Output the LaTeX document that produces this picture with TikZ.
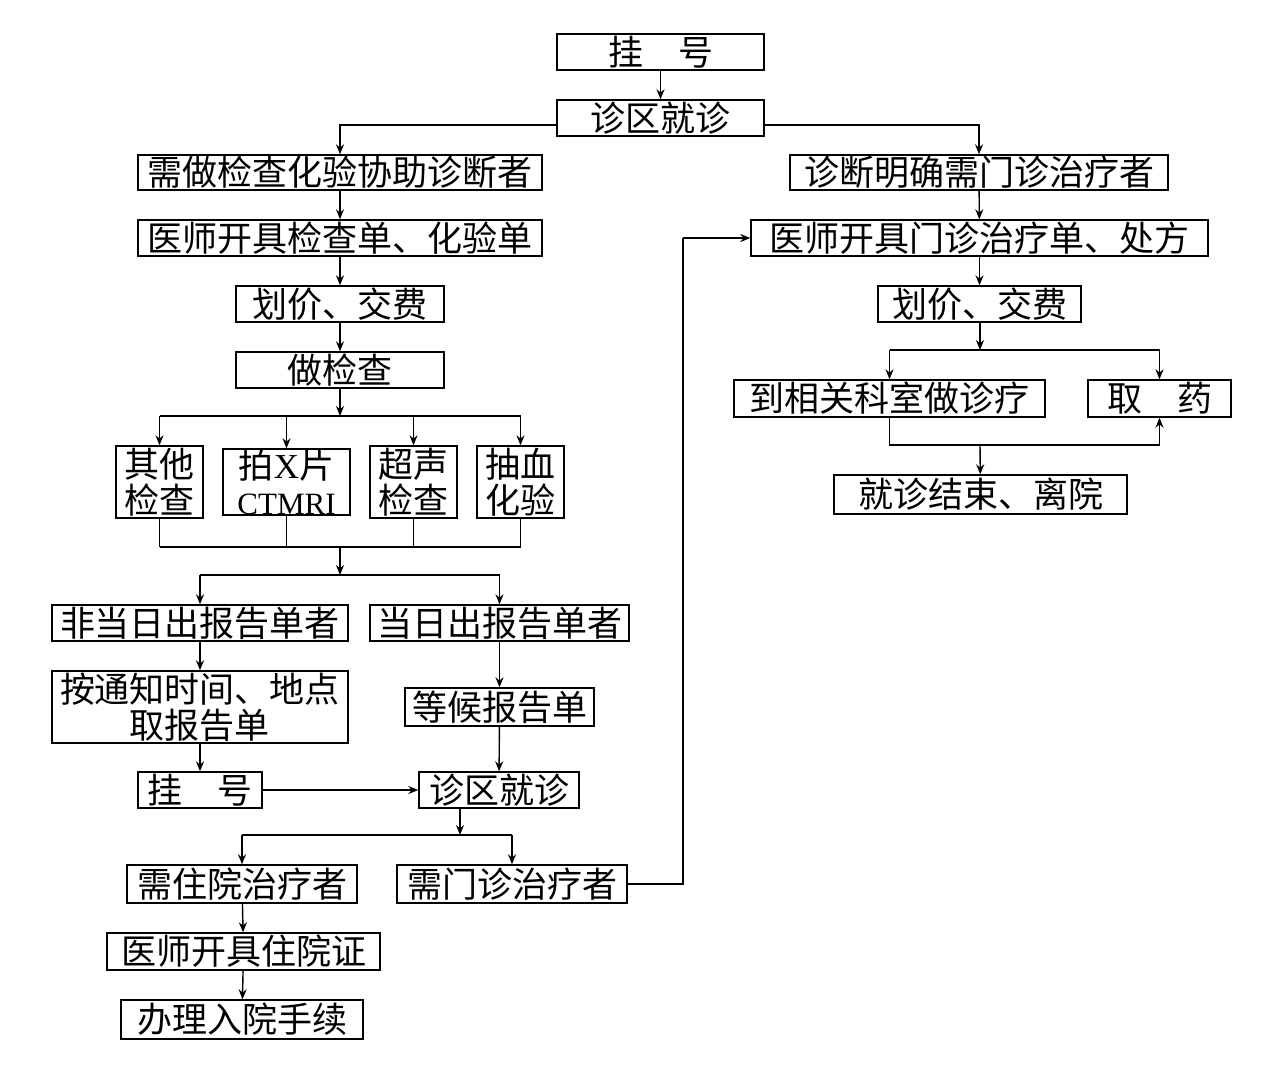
\documentclass[tikz,border=0pt]{standalone}
\usepackage{fontspec}
\setmainfont{Liberation Serif}
\newfontfamily\cjk{Noto Sans CJK SC}
\usetikzlibrary{arrows.meta}

\begin{document}
\begin{tikzpicture}[x=0.5pt, y=-0.5pt, line width=0.7pt,
  box/.style={draw, inner sep=0pt, align=center, font=\cjk\fontsize{17.5}{18}\selectfont},
  arr/.style={-{Stealth[length=5pt,width=4pt]}}]

\useasboundingbox (0,0) rectangle (1280,1089);

% Registration
\node[box, minimum width=103.5pt, minimum height=18pt] (gh1) at (660.5,52) {挂　号};
\node[box, minimum width=103.5pt, minimum height=18pt] (zq1) at (660.5,118) {诊区就诊};

% Left branch: examinations
\node[box, minimum width=202pt, minimum height=17.5pt] (xz) at (340,172.5) {需做检查化验协助诊断者};
\node[box, minimum width=202pt, minimum height=18pt] (ys1) at (340,238) {医师开具检查单、化验单};
\node[box, minimum width=104pt, minimum height=18pt] (hj1) at (340,304) {划价、交费};
\node[box, minimum width=104pt, minimum height=18pt] (zjc) at (340,370) {做检查};

\node[box, minimum width=43.5pt, minimum height=36pt] (qt) at (159.5,482) {其他\\检查};
\node[box, minimum width=63.5pt, minimum height=33pt] (px) at (286.5,482) {拍{\rmfamily X}片\\{\rmfamily\fontsize{15.5}{18}\selectfont CTMRI}};
\node[box, minimum width=43.5pt, minimum height=36pt] (cs) at (413.5,482) {超声\\检查};
\node[box, minimum width=43.5pt, minimum height=36pt] (cx) at (520.5,482) {抽血\\化验};

% Reports
\node[box, minimum width=148pt, minimum height=18pt] (fdr) at (200,623) {非当日出报告单者};
\node[box, minimum width=129.5pt, minimum height=18pt] (dr) at (499.5,623) {当日出报告单者};
\node[box, minimum width=148pt, minimum height=36pt] (atz) at (200,707) {按通知时间、地点\\取报告单};
\node[box, minimum width=94.5pt, minimum height=19pt] (dh) at (499.5,707) {等候报告单};
\node[box, minimum width=62pt, minimum height=18pt] (gh2) at (200,790) {挂　号};
\node[box, minimum width=80pt, minimum height=18pt] (zq2) at (499,790) {诊区就诊};

% Treatment
\node[box, minimum width=115pt, minimum height=19pt] (zy) at (242,884) {需住院治疗者};
\node[box, minimum width=115pt, minimum height=19pt] (mz) at (512,884) {需门诊治疗者};
\node[box, minimum width=136.5pt, minimum height=18.5pt] (zyz) at (243.5,951.5) {医师开具住院证};
\node[box, minimum width=121pt, minimum height=19.5pt] (bl) at (242,1019.5) {办理入院手续};

% Right branch: outpatient
\node[box, minimum width=189pt, minimum height=17.5pt] (zd) at (979,172.5) {诊断明确需门诊治疗者};
\node[box, minimum width=228.5pt, minimum height=18pt] (ys2) at (979.5,238) {医师开具门诊治疗单、处方};
\node[box, minimum width=101.5pt, minimum height=18pt] (hj2) at (979.5,304) {划价、交费};
\node[box, minimum width=155.5pt, minimum height=18.5pt] (dk) at (889.5,398.5) {到相关科室做诊疗};
\node[box, minimum width=71.5pt, minimum height=18.5pt] (qy) at (1159.5,398.5) {取　药};
\node[box, minimum width=146.5pt, minimum height=19.5pt] (js) at (980.5,494.5) {就诊结束、离院};

% Bus points
\coordinate (bus1) at (340,416);
\coordinate (bus2) at (340,547);
\coordinate (bus3) at (340,575);
\coordinate (bus4) at (460,835);
\coordinate (bus5) at (980,350);
\coordinate (bus6) at (980,445);
\coordinate (up) at (683,238);

% Connectors
\draw[arr] (gh1) -- (zq1);
\draw[arr] ([yshift=-3.5pt]zq1.west) -| (xz.north);
\draw[arr] ([yshift=-3.5pt]zq1.east) -| (zd.north);
\draw[arr] (xz) -- (ys1);
\draw[arr] (ys1) -- (hj1);
\draw[arr] (hj1) -- (zjc);
\draw[arr] (zjc) -- (bus1);
\draw (qt.north |- bus1) -- (cx.north |- bus1);
\draw (qt.south |- bus2) -- (cx.south |- bus2);
\foreach \nm in {qt,px,cs,cx} {
    \draw[arr] (\nm.north |- bus1) -- (\nm.north);
    \draw (\nm.south) -- (\nm.south |- bus2);
}
\draw[arr] (bus2) -- (bus3);
\draw (bus3 -| fdr.north) -- (bus3 -| dr.north);
\draw[arr] (bus3 -| fdr.north) -- (fdr.north);
\draw[arr] (bus3 -| dr.north) -- (dr.north);
\draw[arr] (fdr) -- (atz);
\draw[arr] (atz) -- (gh2);
\draw[arr] (dr) -- (dh);
\draw[arr] (dh) -- (zq2);
\draw[arr, line width=1.1pt] (gh2) -- (zq2);
\draw[arr] (zq2.south -| bus4) -- (bus4);
\draw (bus4 -| zy.north) -- (bus4 -| mz.north);
\draw[arr] (bus4 -| zy.north) -- (zy.north);
\draw[arr] (bus4 -| mz.north) -- (mz.north);
\draw[arr] (zy) -- (zyz);
\draw[arr] (zyz) -- (bl);
\draw (mz.east) -| (up);
\draw[arr, line width=1.1pt] (up) -- (ys2.west);

\draw[arr] (zd) -- (ys2);
\draw[arr] (ys2) -- (hj2);
\draw[arr] (hj2.south -| bus5) -- (bus5);
\draw (bus5 -| dk.north) -- (bus5 -| qy.north);
\draw[arr] (bus5 -| dk.north) -- (dk.north);
\draw[arr] (bus5 -| qy.north) -- (qy.north);
\draw (dk.south) -- (bus6 -| dk.south) -- (bus6 -| qy.south);
\draw[arr] (bus6 -| qy.south) -- (qy.south);
\draw[arr] (bus6) -- (js);

\end{tikzpicture}
\end{document}
